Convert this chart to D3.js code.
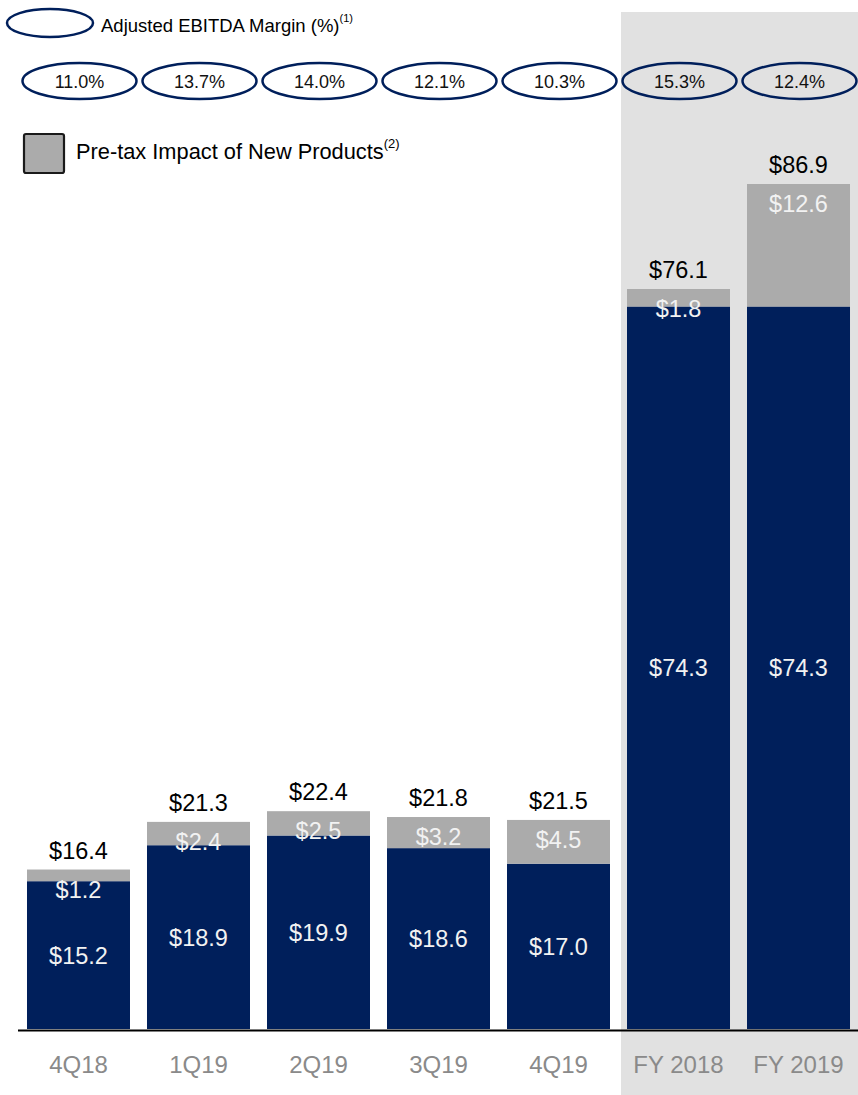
<!DOCTYPE html>
<html>
<head>
<meta charset="utf-8">
<script src="https://cdn.jsdelivr.net/npm/d3@7"></script>
<style>
  body { margin: 0; background: #fff; }
  text { font-family: "Liberation Sans", Arial, sans-serif; }
</style>
</head>
<body>
<div id="chart"></div>
<script>
// data
var periods = ["4Q18", "1Q19", "2Q19", "3Q19", "4Q19", "FY 2018", "FY 2019"];
var baseValues = [15.2, 18.9, 19.9, 18.6, 17.0, 74.3, 74.3];
var newProducts = [1.2, 2.4, 2.5, 3.2, 4.5, 1.8, 12.6];
var totals = [16.4, 21.3, 22.4, 21.8, 21.5, 76.1, 86.9];
var margins = ["11.0%", "13.7%", "14.0%", "12.1%", "10.3%", "15.3%", "12.4%"];
var fullYears = ["FY 2018", "FY 2019"];

var width = 858, height = 1095;
var navy = "#001f5b", grey = "#ababab";

var svg = d3.select("#chart")
  .append("svg")
    .attr("width", width)
    .attr("height", height);

// x scale
var x = d3.scaleBand()
  .domain(periods)
  .range([18.5, 858.5])
  .paddingInner(0.1417)
  .paddingOuter(0.0708);

// y scale
var y = d3.scaleLinear()
  .domain([0, 86.9])
  .range([1029, 184]);

// shaded full-year area
svg.append("rect")
  .attr("x", x(fullYears[0]) - 6)
  .attr("y", 12)
  .attr("width", width - x(fullYears[0]) + 6)
  .attr("height", height - 12)
  .attr("fill", "#e1e1e1");

// legend
svg.append("ellipse")
  .attr("cx", 50).attr("cy", 23).attr("rx", 43).attr("ry", 14)
  .attr("fill", "none").attr("stroke", navy).attr("stroke-width", 2.5);
var leg1 = svg.append("text")
  .attr("x", 101).attr("y", 32)
  .attr("font-size", "18.5px").attr("fill", "#000")
  .text("Adjusted EBITDA Margin (%)");
leg1.append("tspan").attr("dy", -10).attr("font-size", "11px").text("(1)");

svg.append("rect")
  .attr("x", 24).attr("y", 134).attr("width", 40).attr("height", 39).attr("rx", 2)
  .attr("fill", grey).attr("stroke", "#1a1a1a").attr("stroke-width", 2.2);
var leg2 = svg.append("text")
  .attr("x", 76).attr("y", 159)
  .attr("font-size", "21.8px").attr("fill", "#000")
  .text("Pre-tax Impact of New Products");
leg2.append("tspan").attr("dy", -11).attr("font-size", "13px").text("(2)");

// margin ellipses
svg.selectAll("myellipse")
  .data(periods)
  .enter()
  .append("ellipse")
    .attr("cx", function(d) { return x(d) + x.bandwidth() / 2 + 1; })
    .attr("cy", 81)
    .attr("rx", 57)
    .attr("ry", 18)
    .attr("fill", "none")
    .attr("stroke", navy)
    .attr("stroke-width", 2.5);

svg.selectAll("mymargin")
  .data(periods)
  .enter()
  .append("text")
    .attr("x", function(d) { return x(d) + x.bandwidth() / 2 + 1; })
    .attr("y", 87.5)
    .attr("text-anchor", "middle")
    .attr("font-size", "18px")
    .attr("fill", "#111")
    .text(function(d, i) { return margins[i]; });

// navy bars
svg.selectAll("mybase")
  .data(periods)
  .enter()
  .append("rect")
    .attr("x", function(d) { return x(d); })
    .attr("y", function(d, i) { return y(baseValues[i]); })
    .attr("width", x.bandwidth())
    .attr("height", function(d, i) { return y(0) - y(baseValues[i]); })
    .attr("fill", navy);

// grey bars on top
svg.selectAll("mynew")
  .data(periods)
  .enter()
  .append("rect")
    .attr("x", function(d) { return x(d); })
    .attr("y", function(d, i) { return y(totals[i]); })
    .attr("width", x.bandwidth())
    .attr("height", function(d, i) { return y(baseValues[i]) - y(totals[i]); })
    .attr("fill", grey);

// axis line
svg.append("line")
  .attr("x1", 18).attr("x2", width)
  .attr("y1", 1030.5).attr("y2", 1030.5)
  .attr("stroke", "#000").attr("stroke-width", 2.2);

// labels
svg.selectAll("mytotal")
  .data(periods)
  .enter()
  .append("text")
    .attr("x", function(d) { return x(d) + x.bandwidth() / 2; })
    .attr("y", function(d, i) { return y(totals[i]) - 11; })
    .attr("text-anchor", "middle")
    .attr("font-size", "23.5px")
    .attr("fill", "#000")
    .text(function(d, i) { return "$" + totals[i].toFixed(1); });

svg.selectAll("mynewlabel")
  .data(periods)
  .enter()
  .append("text")
    .attr("x", function(d) { return x(d) + x.bandwidth() / 2; })
    .attr("y", function(d, i) { return y(totals[i]) + 28; })
    .attr("text-anchor", "middle")
    .attr("font-size", "23.5px")
    .attr("fill", "#f2f2f2")
    .text(function(d, i) { return "$" + newProducts[i].toFixed(1); });

svg.selectAll("mybaselabel")
  .data(periods)
  .enter()
  .append("text")
    .attr("x", function(d) { return x(d) + x.bandwidth() / 2; })
    .attr("y", function(d, i) { return (y(baseValues[i]) + y(0)) / 2 + 8.5; })
    .attr("text-anchor", "middle")
    .attr("font-size", "23.5px")
    .attr("fill", "#f2f2f2")
    .text(function(d, i) { return "$" + baseValues[i].toFixed(1); });

// category labels
svg.selectAll("mycat")
  .data(periods)
  .enter()
  .append("text")
    .attr("x", function(d) { return x(d) + x.bandwidth() / 2; })
    .attr("y", 1073)
    .attr("text-anchor", "middle")
    .attr("font-size", "24px")
    .attr("fill", "#8a8a8a")
    .text(function(d) { return d; });
</script>
</body>
</html>
